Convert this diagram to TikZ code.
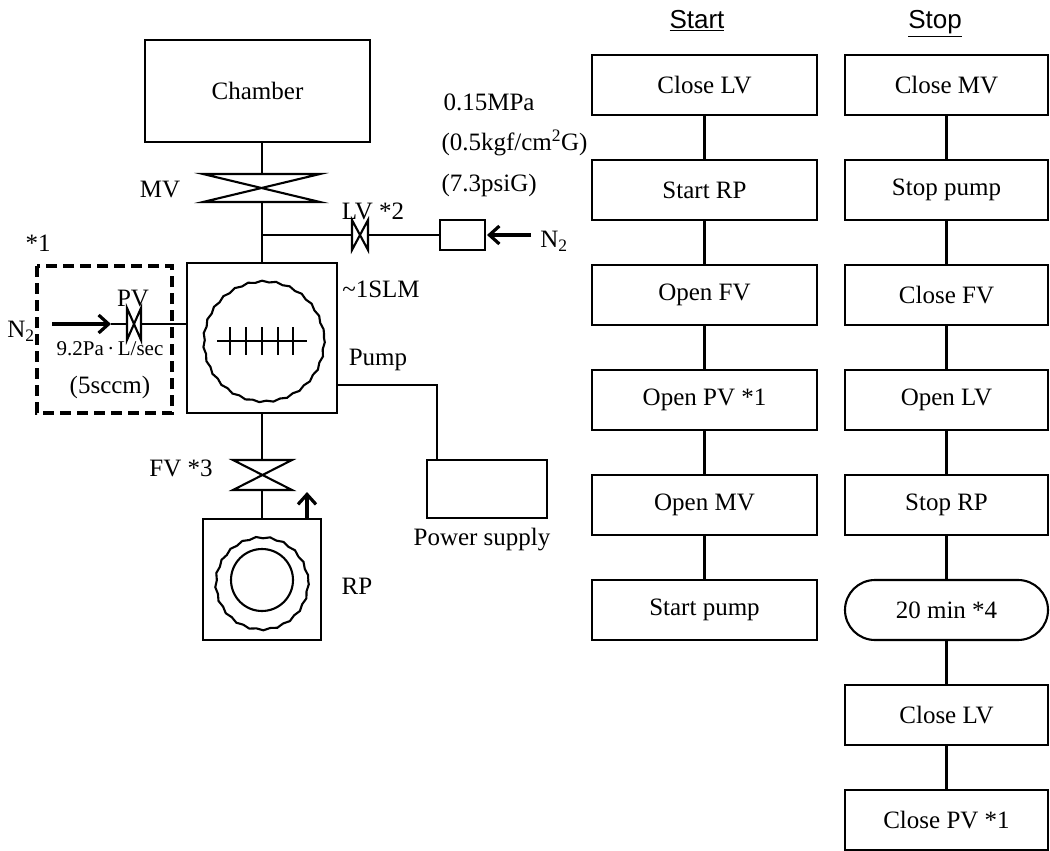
\documentclass[tikz,border=0pt]{standalone}
\usepackage{fontspec}
\setmainfont{Liberation Serif}
\setsansfont{Liberation Sans}
\usetikzlibrary{arrows.meta,decorations.pathmorphing}
\begin{document}
\begin{tikzpicture}[x=1pt,y=-1pt,
  every node/.style={font=\fontsize{25}{28}\selectfont},
  ln/.style={line width=2.1pt},
  box/.style={draw,line width=2.1pt,minimum width=225pt,minimum height=60pt,inner sep=0pt,outer sep=0pt},
  sbox/.style={draw,line width=2.1pt,minimum width=203pt,minimum height=60pt,inner sep=0pt,outer sep=0pt},
  valve/.style={line width=2.1pt,line join=miter},
  bigarrow/.style={line width=3.2pt,-{Straight Barb[length=10pt,width=18pt,line width=3.2pt]}},
  wavy/.style={line width=2.1pt,decorate,decoration={snake,segment length=14pt,amplitude=0.8pt}},
  head/.style={font=\fontsize{26}{28}\selectfont\sffamily,anchor=base}
]
\useasboundingbox (0,0) rectangle (1050,851);

% ---------- Chamber and MV ----------
\node[draw,line width=2.1pt,minimum width=225pt,minimum height=102pt,inner sep=0pt,outer sep=0pt] (ch) at (257.5,91) {Chamber};
\coordinate (mvt) at (262,174);
\coordinate (mvb) at (262,202);
\draw[valve] (203,174) -- (320,174) -- (203,202) -- (320,202) -- cycle;
\node (mvl) at (160,190) {MV};
\draw[ln] (ch.south -| mvt) -- (mvt);

% ---------- Pump ----------
\node[draw,line width=2.1pt,minimum width=150pt,minimum height=150pt,inner sep=0pt,outer sep=0pt] (pump) at (262,338) {};
\draw[wavy] (264,338) circle[radius=60];
\draw[ln] (217,341) -- (307,341);
\foreach \xx in {230,246,262,278,293} \draw[ln] (\xx,327) -- (\xx,355);
\draw[ln] (mvb) -- (pump.north -| mvb);
\node (slm) at (381,289) {\textasciitilde1SLM};
\node (pumpl) at (378,360) {Pump};

% ---------- LV branch ----------
\coordinate (br) at (262,235);
\coordinate (lvl) at (352,235);
\coordinate (lvr) at (368,235);
\draw[valve] (352,220) -- (352,250) -- (368,220) -- (368,250) -- cycle;
\node (lvlab) at (373,211) {LV *2};
\draw[ln] (br) -- (lvl);
\node[draw,line width=2.1pt,minimum width=45pt,minimum height=30pt,inner sep=0pt,outer sep=0pt] (reg) at (462.5,235) {};
\draw[ln] (lvr) -- (reg.west);
\coordinate (n2r) at (531,235);
\draw[bigarrow] (n2r) -- ([xshift=2pt]reg.east);
\node (n2a) at (554,241) {N\textsubscript{2}};
\node[anchor=west] (p1) at (440,102) {0.15MPa};
\node[anchor=west] (p2) at (438,143) {(0.5kgf/cm\textsuperscript{2}G)};
\node[anchor=west] (p3) at (438,185) {(7.3psiG)};

% ---------- PV (dashed) ----------
\draw[line width=4pt,dash pattern=on 11pt off 6pt] (37,266) rectangle (172,413);
\node (star1) at (38,243) {*1};
\coordinate (pvl) at (127,324);
\coordinate (pvr) at (141,324);
\draw[valve] (127,308) -- (127,340) -- (141,308) -- (141,340) -- cycle;
\node (pvlab) at (133,299) {PV};
\coordinate (n2l) at (52,324);
\coordinate (pvin) at (111,324);
\draw[bigarrow] (n2l) -- (pvin);
\draw[ln] (pvin) -- (pvl);
\draw[ln] (pvr) -- (pump.west |- pvr);
\node (n2b) at (21,331) {N\textsubscript{2}};
\node[font=\fontsize{21}{23}\selectfont] (flow) at (110,349) {9.2Pa\,·\,L/sec};
\node (sccm) at (110,387) {(5sccm)};

% ---------- Power supply ----------
\node[draw,line width=2.1pt,minimum width=120pt,minimum height=58pt,inner sep=0pt,outer sep=0pt] (ps) at (487,489) {};
\coordinate (pc) at (437,385);
\draw[ln] (pump.east |- pc) -- (pc) -- (pc |- ps.north);
\node (psl) at (482,540) {Power supply};

% ---------- FV and RP ----------
\coordinate (fvt) at (262,460);
\coordinate (fvb) at (262,490);
\draw[valve] (233,460) -- (292,460) -- (233,490) -- (292,490) -- cycle;
\node (fvlab) at (181,468) {FV *3};
\draw[ln] (pump.south -| fvt) -- (fvt);
\node[draw,line width=2.1pt,minimum width=118pt,minimum height=121pt,inner sep=0pt,outer sep=0pt] (rp) at (262,579.5) {};
\draw[ln] (fvb) -- (rp.north -| fvb);
\coordinate (rpa) at (307,492);
\draw[bigarrow] (rp.north -| rpa) -- (rpa);
\draw[wavy] (262,580) circle[radius=46];
\draw[ln] (262,580) circle[radius=31];
\node (rpl) at (357,586) {RP};

% ---------- Start column ----------
\node[head] (hstart) at (697,29) {\underline{Start}};
\node[box] (a1) at (704.5,85) {Close LV};
\node[box] (a2) at (704.5,190) {Start RP};
\node[box] (a3) at (704.5,295) {Open FV};
\node[box] (a4) at (704.5,400) {Open PV *1};
\node[box] (a5) at (704.5,505) {Open MV};
\node[box] (a6) at (704.5,610) {Start pump};
\foreach \i/\j in {a1/a2,a2/a3,a3/a4,a4/a5,a5/a6} \draw[ln] (\i) -- (\j);

% ---------- Stop column ----------
\node[head] (hstop) at (935,29) {\underline{Stop}};
\node[sbox] (b1) at (946.5,85) {Close MV};
\node[sbox] (b2) at (946.5,190) {Stop pump};
\node[sbox] (b3) at (946.5,295) {Close FV};
\node[sbox] (b4) at (946.5,400) {Open LV};
\node[sbox] (b5) at (946.5,505) {Stop RP};
\node[sbox,rounded corners=30pt] (b6) at (946.5,610) {20 min *4};
\node[sbox] (b7) at (946.5,715) {Close LV};
\node[sbox] (b8) at (946.5,820) {Close PV *1};
\foreach \i/\j in {b1/b2,b2/b3,b3/b4,b4/b5,b5/b6,b6/b7,b7/b8} \draw[ln] (\i) -- (\j);
\end{tikzpicture}
\end{document}
